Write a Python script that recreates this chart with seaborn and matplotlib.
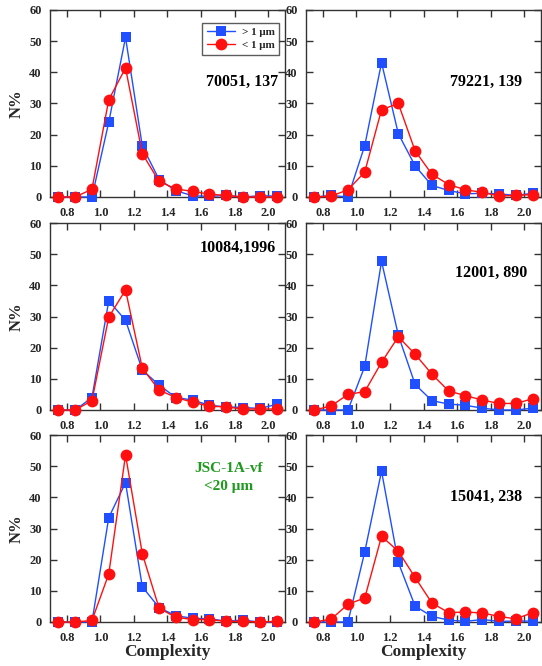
import numpy as np
import pandas as pd
import seaborn as sns
import matplotlib.pyplot as plt

# complexity bin centres
complexity = [0.75, 0.85, 0.95, 1.05, 1.15, 1.25, 1.35, 1.45, 1.55, 1.65, 1.75, 1.85, 1.95, 2.05]

# N% for particles > 1 um (blue) and < 1 um (red), one pair per sample
big_70051 = [0, 0, 0, 24.0, 51.2, 16.3, 5.6, 2.0, 0.4, 0.2, 0.5, 0, 0.4, 0.3]
small_70051 = [0, 0, 2.5, 31.2, 41.4, 13.9, 5.0, 2.6, 1.8, 0.9, 0.5, 0, 0, 0]

big_79221 = [0, 0.5, 0, 16.5, 43.1, 20.3, 10.0, 3.7, 2.1, 1.0, 1.2, 1.0, 0.5, 1.2]
small_79221 = [0, 0.3, 2.3, 8.0, 28.0, 30.0, 14.8, 7.3, 4.0, 2.3, 1.5, 0.3, 0.5, 0.8]

big_10084 = [0, 0, 4.0, 35.0, 28.8, 12.8, 8.0, 4.0, 3.2, 1.5, 1.0, 0.8, 0.5, 1.8]
small_10084 = [0, 0, 3.0, 29.8, 38.5, 13.4, 6.4, 4.0, 2.5, 1.2, 1.0, 0.3, 0.3, 0.3]

big_12001 = [0, 0, 0, 14.0, 47.7, 24.0, 8.2, 3.0, 1.9, 1.5, 0.6, 0, 0, 0.6]
small_12001 = [0, 1.3, 5.0, 5.9, 15.3, 23.5, 17.9, 11.5, 6.1, 4.6, 3.2, 2.1, 2.1, 3.6]

big_jsc = [0, 0, 0, 33.5, 44.7, 11.3, 4.6, 2.0, 1.2, 1.0, 0.3, 0.6, 0, 0]
small_jsc = [0, 0, 0.5, 15.4, 53.6, 21.9, 4.4, 1.5, 0.8, 0.8, 0.2, 0.2, 0, 0.2]

big_15041 = [0, 0, 0, 22.5, 48.4, 19.1, 5.1, 1.8, 0.6, 0.2, 0.8, 0.2, 0.3, 0.3]
small_15041 = [0, 0.9, 5.7, 7.7, 27.5, 22.7, 14.3, 6.1, 3.0, 3.2, 2.9, 1.8, 1.0, 3.0]

labels = ["70051, 137", "79221, 139", "10084,1996", "12001, 890", "JSC-1A-vf\n<20 \u03bcm", "15041, 238"]
big_sets = [big_70051, big_79221, big_10084, big_12001, big_jsc, big_15041]
small_sets = [small_70051, small_79221, small_10084, small_12001, small_jsc, small_15041]

sns.set_style("ticks")
plt.rcParams['font.family'] = ['Liberation Serif', 'DejaVu Serif']
plt.rcParams['font.weight'] = 'bold'

fig = plt.figure(figsize=(5.42, 6.66), dpi=100)

lefts = [50 / 542, 306 / 542]
width = 235 / 542
bottoms = [1 - 197 / 666, 1 - 410 / 666, 1 - 622 / 666]
height = 187 / 666

# label placement: (x, y, ha, colour) in axes fraction / data
label_pos = [
    (0.97, 37, 'right', 'black'),
    (0.92, 37, 'right', 'black'),
    (0.96, 52, 'right', 'black'),
    (0.94, 44, 'right', 'black'),
    (0.76, 46.5, 'center', '#1f9a1f'),
    (0.92, 40, 'right', 'black'),
]

blue = '#1f4fff'
red = '#ff1010'

for i in range(6):
    r, c = divmod(i, 2)
    ax = fig.add_axes([lefts[c], bottoms[r], width, height])
    df = pd.DataFrame({'Complexity': complexity, 'big': big_sets[i], 'small': small_sets[i]})
    sns.lineplot(data=df, x='Complexity', y='big', ax=ax, color=blue, marker='s',
                 markersize=6.5, markeredgewidth=0, linewidth=1.0, label='> 1 \u03bcm',
                 clip_on=False, zorder=3)
    sns.lineplot(data=df, x='Complexity', y='small', ax=ax, color=red, marker='o',
                 markersize=8.5, markeredgewidth=0, linewidth=1.0, label='< 1 \u03bcm',
                 clip_on=False, zorder=4)
    ax.set_xlim(0.7, 2.1)
    ax.set_ylim(0, 60)
    ax.set_xticks(np.arange(0.8, 2.01, 0.2))
    ax.set_xticklabels([f"{v:.1f}" for v in np.arange(0.8, 2.01, 0.2)])
    ax.set_yticks(np.arange(0, 61, 10))
    ax.tick_params(direction='in', top=True, right=True, length=5, width=1,
                   labelsize=9, color='#333333')
    ax.tick_params(axis='x', pad=7)
    ax.tick_params(axis='y', pad=6)
    for lab in ax.get_xticklabels() + ax.get_yticklabels():
        lab.set_fontweight('bold')
    for s in ax.spines.values():
        s.set_linewidth(1.0)
        s.set_color('#333333')
    tx, ty, ha, col = label_pos[i]
    ax.text(tx, ty, labels[i], transform=ax.get_yaxis_transform(), ha=ha, va='center',
            fontsize=11.5 if i != 4 else 11, fontweight='bold', color=col, linespacing=1.5)
    ax.set_ylabel('N%' if c == 0 else '', fontsize=12, fontweight='bold', labelpad=3)
    ax.set_xlabel('Complexity' if r == 2 else '', fontsize=12.5, fontweight='bold', labelpad=0)
    if i == 0:
        leg = ax.legend(loc='upper right', bbox_to_anchor=(1.0, 0.96), fontsize=8,
                        frameon=True, fancybox=False, handlelength=2.6, borderpad=0.4,
                        labelspacing=0.3, handletextpad=0.6)
        leg.get_frame().set_edgecolor('#333333')
        leg.get_frame().set_linewidth(1.0)
    else:
        ax.get_legend().remove()

fig.savefig('out.png', dpi=100)
